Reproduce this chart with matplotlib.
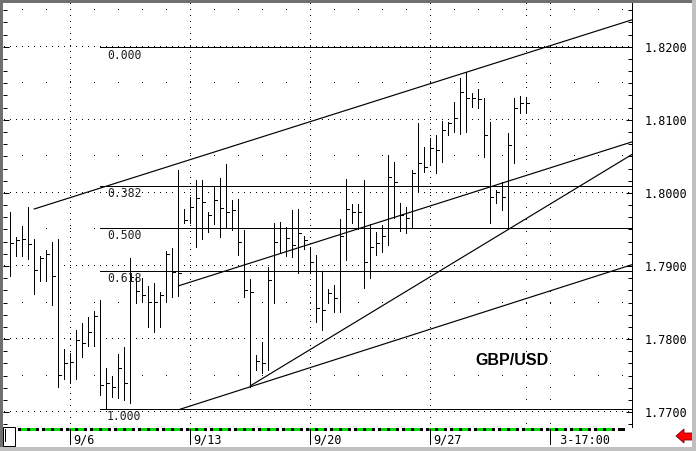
import numpy as np
import matplotlib
matplotlib.use("Agg")
import matplotlib.pyplot as plt
from matplotlib import transforms
from matplotlib.patches import Rectangle, Polygon
from matplotlib.ticker import MultipleLocator, FormatStrFormatter

# datos de las barras (una barra cada 6 px, indice = posicion)
highs = [1.7974, 1.7939, 1.7955, 1.7981, 1.7937, 1.7914, 1.7922, 1.7933, 1.7937, 1.7786,
         1.7781, 1.7812, 1.7822, 1.7830, 1.7838, 1.7854, 1.7760, 1.7749, 1.7780, 1.7789,
         1.7911, 1.7885, 1.7883, 1.7873, 1.7877, 1.7865, 1.7921, 1.7924, 1.8032, 1.7978,
         1.7995, 1.8017, 1.8018, 1.7974, 1.8009, 1.8021, 1.8040, 1.7990, 1.7991, 1.7949,
         1.7882, 1.7778, 1.7796, 1.7899, 1.7959, 1.7960, 1.7953, 1.7977, 1.7978, 1.7941,
         1.7926, 1.7915, 1.7892, 1.7869, 1.7874, 1.7964, 1.8019, 1.7985, 1.7985, 1.8018,
         1.7957, 1.7946, 1.7956, 1.8052, 1.8042, 1.7986, 1.7981, 1.8031, 1.8096, 1.8063,
         1.8075, 1.8079, 1.8098, 1.8097, 1.8124, 1.8157, 1.8165, 1.8137, 1.8142, 1.8130,
         1.8097, 1.8004, 1.8015, 1.8082, 1.8130, 1.8133, 1.8131]
lows = [1.7886, 1.7913, 1.7913, 1.7909, 1.7862, 1.7879, 1.7879, 1.7846, 1.7734, 1.7745,
        1.7740, 1.7746, 1.7775, 1.7790, 1.7791, 1.7724, 1.7705, 1.7721, 1.7719, 1.7716,
        1.7712, 1.7850, 1.7851, 1.7817, 1.7809, 1.7817, 1.7851, 1.7857, 1.7859, 1.7959,
        1.7959, 1.7926, 1.7937, 1.7946, 1.7957, 1.7939, 1.7952, 1.7949, 1.7915, 1.7857,
        1.7735, 1.7758, 1.7754, 1.7758, 1.7849, 1.7919, 1.7914, 1.7912, 1.7890, 1.7923,
        1.7890, 1.7823, 1.7812, 1.7849, 1.7837, 1.7837, 1.7908, 1.7959, 1.7951, 1.7870,
        1.7884, 1.7915, 1.7919, 1.7929, 1.7966, 1.7948, 1.7945, 1.7953, 1.8001, 1.8029,
        1.8040, 1.8027, 1.8042, 1.8079, 1.8083, 1.8081, 1.8083, 1.8118, 1.8116, 1.8049,
        1.7959, 1.7986, 1.7977, 1.7952, 1.8041, 1.8109, 1.8109]
closes = [1.7931, 1.7936, 1.7937, 1.7930, 1.7895, 1.7911, 1.7916, 1.7886, 1.7751, 1.7767,
          1.7768, 1.7799, 1.7794, 1.7810, 1.7832, 1.7737, 1.7740, 1.7734, 1.7760, 1.7740,
          1.7885, 1.7866, 1.7860, 1.7851, 1.7851, 1.7860, 1.7916, 1.7892, 1.7891, 1.7963,
          1.7981, 1.7993, 1.7988, 1.7970, 1.7990, 1.7980, 1.7974, 1.7976, 1.7933, 1.7867,
          1.7865, 1.7770, 1.7767, 1.7881, 1.7933, 1.7952, 1.7938, 1.7929, 1.7945, 1.7936,
          1.7905, 1.7843, 1.7840, 1.7863, 1.7856, 1.7941, 1.7978, 1.7974, 1.7974, 1.7905,
          1.7926, 1.7931, 1.7941, 1.8022, 1.8015, 1.7970, 1.7966, 1.8027, 1.8041, 1.8035,
          1.8061, 1.8059, 1.8086, 1.8096, 1.8102, 1.8138, 1.8130, 1.8130, 1.8128, 1.8079,
          1.7994, 1.8001, 1.7994, 1.8066, 1.8116, 1.8123, 1.8123]

# lineas de tendencia (inicio y fin)
trend_x0 = [4.0, 28.1, 28.3, 40.0]
trend_y0 = [1.7978, 1.7873, 1.7704, 1.7736]
trend_x1 = [103.7, 103.7, 103.7, 103.7]
trend_y1 = [1.8237, 1.8070, 1.7902, 1.8053]

# retroceso de fibonacci
fib_start = 15
fib_high = 1.8199
fib_low = 1.7704
fib_levels = [0.0, 0.382, 0.5, 0.618, 1.0]

# eje de fechas
date_pos = [10, 30, 50, 70, 90]
date_labels = ["9/6", "9/13", "9/20", "9/27", " 3-17:00"]

LW = 0.72  # un pixel

W, H = 696, 451
fig = plt.figure(figsize=(W / 100, H / 100), dpi=100)
ax = fig.add_axes([3 / W, 1 - 427 / H, 629 / W, 424 / H])
ax.set_xlim(-1.217, 103.62)
ax.set_ylim(1.76797, 1.82598)

# cuadricula punteada
for p in np.arange(1.77, 1.825, 0.01):
    xs = np.arange(-1, 104)
    ax.plot(xs, [p] * len(xs), ",", color="black")
for p in np.arange(1.775, 1.826, 0.01):
    xs = np.arange(2, 104, 4)
    ax.plot(xs, [p] * len(xs), ",", color="black")
step = 0.01 / 73.1 * 6
for xv in [10, 30, 50, 70]:
    ys = 1.77 + np.arange(-2, 72) * step
    ax.plot([xv] * len(ys), ys, ",", color="black")
for xv in [86, 90]:
    ys = 1.77 + np.arange(-1, 36) * step * 2
    ax.plot([xv] * len(ys), ys, ",", color="black")

# barras
idx = np.arange(len(highs))
ax.vlines(idx, lows, highs, colors="black", linewidth=LW, antialiased=False)
ax.hlines(closes, idx, idx + 0.45, colors="black", linewidth=LW, antialiased=False)

# tendencias
for x0, y0, x1, y1 in zip(trend_x0, trend_y0, trend_x1, trend_y1):
    ax.plot([x0, x1], [y0, y1], color="black", linewidth=0.85, antialiased=True)

# fibonacci
for r in fib_levels:
    p = fib_high - r * (fib_high - fib_low)
    ax.hlines(p, fib_start, 104, colors="black", linewidth=LW, antialiased=False)
    ax.text(fib_start + 1.1, p - 0.00015, "%.3f" % r, family="DejaVu Sans Mono",
            fontsize=8.3, va="top", ha="left", color="#202020")

ax.text(77.45, 1.7770, "GBP/USD", family="Liberation Sans", fontweight="bold",
        fontsize=11.5, va="center", ha="left")

# ejes
ax.yaxis.set_major_locator(MultipleLocator(0.01))
ax.yaxis.set_minor_locator(MultipleLocator(0.01 / 6))
ax.yaxis.set_major_formatter(FormatStrFormatter("%.4f"))
ax.tick_params(axis="y", which="both", direction="in", left=True, right=True,
               labelleft=False, labelright=True, width=LW, color="black")
ax.tick_params(axis="y", which="major", length=4, labelsize=8.5, pad=9)
ax.tick_params(axis="y", which="minor", length=3)
for lab in ax.get_yticklabels():
    lab.set_family("DejaVu Sans Mono")
ax.set_xticks([])
for s in ["left", "top", "bottom"]:
    ax.spines[s].set_visible(False)
ax.spines["right"].set_linewidth(LW)

# capa en pixeles para los adornos de la ventana
ov = fig.add_axes([0, 0, 1, 1], facecolor="none")
ov.set_xlim(0, W)
ov.set_ylim(H, 0)
ov.axis("off")
tr = transforms.blended_transform_factory(ax.transData, ov.transData)

# barra de tiempo verde / negra
ov.add_patch(Rectangle((15, 427.5), 610, 3.5, facecolor="black", edgecolor="none"))
x = 15
pattern = [("white", 3), ("black", 3), ("#00dd00", 6), ("black", 3), ("#00dd00", 6), ("black", 3)]
while x < 622:
    for col, w in pattern:
        if x + w > 625:
            break
        ov.add_patch(Rectangle((x, 428), w, 2.5, facecolor=col, edgecolor="none"))
        x += w
    else:
        continue
    break

for xv, lab in zip(date_pos, date_labels):
    ov.plot([xv, xv], [429, 444], color="black", linewidth=LW, transform=tr,
            antialiased=False)
    ov.text(xv + 0.45, 443.5, lab, transform=tr, family="DejaVu Sans Mono",
            fontsize=8.5, va="baseline", ha="left")

# caja de desplazamiento
ov.add_patch(Rectangle((3, 427), 12, 19, facecolor="white", edgecolor="black", linewidth=LW))
ov.plot([5, 5], [429, 441], color="black", linewidth=LW)

# flecha roja
ov.add_patch(Polygon([(676, 436), (684, 429), (684, 433), (693, 433), (693, 440),
                      (684, 440), (684, 443)], closed=True, facecolor="#ff0000",
                     edgecolor="#800000", linewidth=0.6))

# marco de la ventana
ov.add_patch(Rectangle((0, 0), W, 2.5, facecolor="#707070", edgecolor="none"))
ov.add_patch(Rectangle((0, 0), 2.5, H, facecolor="#707070", edgecolor="none"))
ov.add_patch(Rectangle((0, 447), W, 4, facecolor="#c0c0c0", edgecolor="none"))
ov.add_patch(Rectangle((692, 0), 4, H, facecolor="#c0c0c0", edgecolor="none"))

fig.savefig("out.png", dpi=100)
